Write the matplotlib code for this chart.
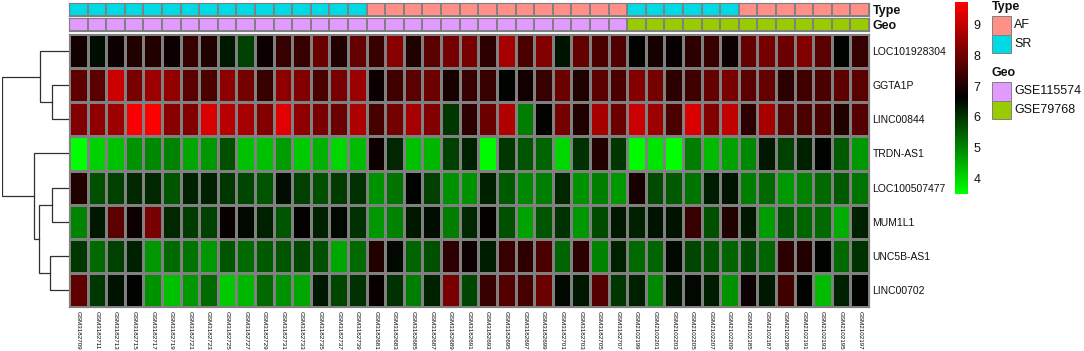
import numpy as np
import matplotlib
matplotlib.use('Agg')
import matplotlib.pyplot as plt
from matplotlib.colors import LinearSegmentedColormap, ListedColormap
from matplotlib.patches import Rectangle

plt.rcParams['font.family'] = ['Liberation Sans', 'DejaVu Sans']

genes = ['LOC101928304', 'GGTA1P', 'LINC00844', 'TRDN-AS1', 'LOC100507477', 'MUM1L1', 'UNC5B-AS1', 'LINC00702']
samples = ['GSM3182709', 'GSM3182711', 'GSM3182713', 'GSM3182715', 'GSM3182717', 'GSM3182719', 'GSM3182721', 'GSM3182723',
           'GSM3182725', 'GSM3182727', 'GSM3182729', 'GSM3182731', 'GSM3182733', 'GSM3182735', 'GSM3182737', 'GSM3182739',
           'GSM3182681', 'GSM3182683', 'GSM3182685', 'GSM3182687', 'GSM3182689', 'GSM3182691', 'GSM3182693', 'GSM3182695',
           'GSM3182697', 'GSM3182699', 'GSM3182701', 'GSM3182703', 'GSM3182705', 'GSM3182707',
           'GSM2102199', 'GSM2102201', 'GSM2102203', 'GSM2102205', 'GSM2102207', 'GSM2102209',
           'GSM2102185', 'GSM2102187', 'GSM2102189', 'GSM2102191', 'GSM2102193', 'GSM2102195', 'GSM2102197']

loc101928304 = [6.85, 6.45, 6.75, 7.0, 7.05, 6.75, 7.3, 7.0, 6.35, 5.8, 6.75, 7.25, 7.25, 7.9, 7.05, 7.85,
                7.25, 8.3, 7.0, 7.7, 8.0, 8.1, 7.15, 8.65, 7.55, 8.2, 6.4, 7.85, 7.55, 7.6,
                6.6, 6.9, 6.7, 7.15, 7.25, 6.75, 7.85, 8.0, 7.9, 8.2, 7.7, 6.6, 7.25]
ggta1p = [7.8, 7.7, 9.1, 8.1, 8.5, 8.4, 7.7, 7.55, 8.35, 8.0, 7.25, 8.35, 8.2, 7.55, 8.1, 8.5,
          6.75, 7.4, 7.7, 7.9, 6.9, 7.25, 7.25, 6.6, 6.85, 7.25, 7.9, 7.0, 7.7, 7.55,
          8.2, 8.0, 7.15, 7.4, 7.85, 8.1, 7.7, 7.85, 7.15, 7.4, 7.55, 7.8, 7.7]
linc00844 = [8.2, 8.35, 8.55, 9.65, 9.75, 8.25, 8.2, 9.25, 8.85, 8.65, 8.2, 9.35, 8.35, 8.1, 7.9, 8.7,
             7.45, 8.0, 8.65, 8.2, 5.95, 7.15, 7.9, 8.75, 5.05, 6.6, 8.0, 7.05, 8.65, 7.9,
             9.1, 8.5, 7.55, 9.25, 8.2, 8.95, 7.15, 8.65, 7.7, 7.5, 7.55, 7.0, 7.65]
trdn_as1 = [3.5, 4.1, 4.25, 4.85, 4.95, 5.0, 4.55, 4.75, 5.65, 4.25, 4.25, 4.7, 4.15, 4.45, 4.0, 4.35,
            6.75, 6.15, 4.25, 4.4, 5.8, 6.2, 3.55, 5.95, 5.55, 5.4, 4.0, 6.05, 7.0, 5.95,
            3.55, 3.85, 3.5, 5.1, 4.35, 4.65, 4.95, 6.35, 5.8, 6.2, 6.6, 5.5, 4.75]
loc100507477 = [7.0, 5.65, 5.8, 6.15, 6.15, 5.55, 6.2, 6.2, 5.95, 5.75, 5.55, 6.45, 5.8, 5.65, 5.9, 6.05,
                4.85, 5.2, 6.6, 5.8, 4.85, 4.85, 6.2, 5.5, 4.95, 5.1, 6.15, 4.8, 5.1, 4.75,
                6.9, 5.7, 5.5, 5.2, 6.3, 6.4, 5.1, 5.35, 4.75, 5.0, 5.35, 5.5, 5.2]
mum1l1 = [5.0, 6.35, 7.7, 6.8, 8.1, 6.15, 5.9, 5.85, 6.7, 6.5, 6.2, 5.55, 6.65, 6.2, 6.55, 6.0,
          4.75, 5.0, 6.35, 6.45, 5.1, 6.15, 6.65, 5.65, 4.65, 5.55, 6.05, 4.75, 5.7, 6.35,
          6.2, 6.4, 6.4, 7.3, 5.65, 7.05, 6.35, 4.7, 5.55, 5.4, 5.3, 4.5, 6.2]
unc5b_as1 = [5.95, 5.3, 5.8, 6.2, 4.75, 5.3, 5.2, 4.75, 5.55, 5.35, 5.5, 5.55, 5.75, 5.65, 4.55, 5.35,
             7.05, 6.55, 5.4, 5.65, 7.15, 6.75, 6.3, 7.25, 7.15, 7.5, 5.4, 7.15, 5.0, 6.2,
             5.3, 5.4, 6.55, 5.75, 5.55, 5.4, 5.7, 5.4, 7.15, 7.0, 6.6, 5.35, 6.05]
linc00702 = [7.75, 5.95, 6.4, 6.6, 4.85, 4.25, 4.75, 5.3, 4.15, 4.4, 5.3, 4.85, 4.55, 6.35, 5.75, 6.05,
             6.7, 6.05, 5.1, 6.2, 8.1, 5.75, 7.25, 7.65, 7.45, 7.9, 6.5, 6.35, 7.65, 5.95,
             6.2, 4.95, 6.4, 6.55, 6.3, 4.85, 6.75, 6.35, 7.4, 6.6, 4.35, 6.2, 6.6]

# 0 = AF, 1 = SR
type_row = [1] * 16 + [0] * 14 + [1] * 6 + [0] * 7
# 0 = GSE115574, 1 = GSE79768
geo_row = [0] * 30 + [1] * 13
type_names = ['AF', 'SR']
type_colors = ['#FF8F87', '#00DAE4']
geo_names = ['GSE115574', 'GSE79768']
geo_colors = ['#E29AFF', '#99CC00']

cbar_ticks = [4, 5, 6, 7, 8, 9]
vmin = 3.48
vmax = 9.75

# merges of the row tree: left, right (leaf index or merge index + 100), height
merges = [(1, 2, 17), (0, 100, 29), (4, 5, 17), (6, 7, 19), (102, 103, 30), (3, 104, 35), (101, 105, 67)]

W, H = 1084, 351
GRID = '#808080'


def axes_px(fig, x0, y0, x1, y1):
    return fig.add_axes([x0 / W, 1 - y1 / H, (x1 - x0) / W, (y1 - y0) / H])


def draw_node(ax, node):
    if node < 100:
        return node + 0.5
    left, right, height = merges[node - 100]
    y_l = draw_node(ax, left)
    y_r = draw_node(ax, right)
    h_l = merges[left - 100][2] if left >= 100 else 0
    h_r = merges[right - 100][2] if right >= 100 else 0
    ax.plot([h_l, height, height, h_r], [y_l, y_l, y_r, y_r], color='#303030', lw=0.9, solid_joinstyle='miter')
    return (y_l + y_r) / 2


values = np.array([loc101928304, ggta1p, linc00844, trdn_as1, loc100507477, mum1l1, unc5b_as1, linc00702])
cmap = LinearSegmentedColormap.from_list('gbr', ['#00FF00', '#000000', '#FF0000'], N=100)

fig = plt.figure(figsize=(W / 100, H / 100), dpi=100)

# main heatmap
ax = axes_px(fig, 69, 34, 869, 307)
ax.pcolormesh(values, cmap=cmap, vmin=vmin, vmax=vmax, edgecolors=GRID, linewidth=0.85)
ax.set_ylim(len(genes), 0)
ax.set_xticks(np.arange(len(samples)) + 0.5)
ax.set_xticklabels(samples, rotation=270, fontsize=4.5, color='black', ha='center', va='top')
ax.set_yticks(np.arange(len(genes)) + 0.5)
ax.set_yticklabels(genes, fontsize=7.5, color='#111111')
ax.yaxis.tick_right()
ax.tick_params(length=0, pad=2.5)
ax.tick_params(axis='x', pad=3)
for s in ax.spines.values():
    s.set_color(GRID)
    s.set_linewidth(0.85)

# annotation rows
for row, colors, name, y0, y1 in [(type_row, type_colors, 'Type', 3, 15.5), (geo_row, geo_colors, 'Geo', 18, 31)]:
    a = axes_px(fig, 69, y0, 869, y1)
    a.pcolormesh(np.array([row]), cmap=ListedColormap(colors), vmin=0, vmax=1, edgecolors=GRID, linewidth=0.35)
    a.set_xticks([])
    a.set_yticks([0.5])
    a.set_yticklabels([name], fontsize=9, fontweight='bold', color='#111111')
    a.yaxis.tick_right()
    a.tick_params(length=0, pad=2.5)
    for s in a.spines.values():
        s.set_color(GRID)
        s.set_linewidth(0.85)

# row dendrogram
den = axes_px(fig, 2, 34, 69, 307)
draw_node(den, 106)
den.set_xlim(67, 0)
den.set_ylim(len(genes), 0)
den.axis('off')

# colour bar
cax = axes_px(fig, 955, 2, 968, 194)
gradient = np.linspace(vmin, vmax, 100).reshape(-1, 1)
cax.imshow(gradient, cmap=cmap, vmin=vmin, vmax=vmax, origin='lower', aspect='auto', extent=[0, 1, vmin, vmax])
cax.set_xticks([])
cax.set_yticks(cbar_ticks)
cax.yaxis.tick_right()
cax.tick_params(length=0, labelsize=9, pad=4, labelcolor='#111111')
for s in cax.spines.values():
    s.set_visible(False)

# legends
leg = fig.add_axes([0, 0, 1, 1])
leg.set_xlim(0, W)
leg.set_ylim(H, 0)
leg.axis('off')
leg.patch.set_alpha(0)
for title, names, colors, y_top in [('Type', type_names, type_colors, 16), ('Geo', geo_names, geo_colors, 82)]:
    leg.text(992, y_top - 9, title, fontsize=9, fontweight='bold', va='center', color='#111111')
    for i, (n, c) in enumerate(zip(names, colors)):
        leg.add_patch(Rectangle((992, y_top + i * 18.5), 18.5, 18.5, facecolor=c, edgecolor=GRID, lw=0.7))
        leg.text(1014, y_top + (i + 0.5) * 18.5, n, fontsize=9, va='center', color='#111111')

fig.savefig('out.png', dpi=100)
